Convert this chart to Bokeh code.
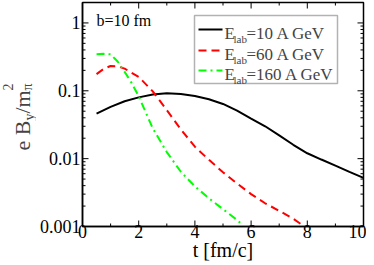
import math
from bokeh.plotting import figure
from bokeh.layouts import row
from bokeh.models import FixedTicker, CustomJSTickFormatter, Label, BoxAnnotation, Arrow, Range1d
from bokeh.embed import file_html
from bokeh.resources import INLINE

# ---- data ----
t_10 = [0.5, 1.0, 1.5, 2.0, 2.5, 3.0, 3.5, 4.0, 4.5, 5.0, 5.5, 6.0, 6.5, 7.0, 7.5, 8.0, 8.5, 9.0, 9.5, 10.0]
b_10 = [0.046, 0.058, 0.070, 0.080, 0.088, 0.092, 0.090, 0.084, 0.075, 0.064, 0.051, 0.039, 0.030, 0.022,
        0.016, 0.012, 0.0097, 0.0079, 0.0064, 0.0052]

t_60 = [0.5, 0.75, 1.0, 1.25, 1.5, 2.0, 2.5, 3.0, 3.5, 4.0, 4.5, 5.0, 5.5, 6.0, 6.5, 7.0, 7.5, 7.9]
b_60 = [0.176, 0.21, 0.232, 0.23, 0.212, 0.16, 0.098, 0.052, 0.027, 0.015, 0.0096, 0.0063, 0.0043,
        0.0030, 0.0022, 0.0017, 0.0013, 0.0010]

t_160 = [0.5, 0.75, 1.0, 1.25, 1.5, 1.75, 2.0, 2.5, 3.0, 3.5, 4.0, 4.5, 5.0, 5.5, 5.7]
b_160 = [0.345, 0.35, 0.345, 0.27, 0.19, 0.13, 0.083, 0.028, 0.0125, 0.0064, 0.0039, 0.0026, 0.0018,
         0.00125, 0.00105]

series_labels = ["=10 A GeV", "=60 A GeV", "=160 A GeV"]
series_colors = ["#000000", "#ff0000", "#00ff00"]
series_dashes = ["solid", "8 5", "8 4 2 4"]

x_lo, x_hi = 0, 10
y_lo, y_hi = 0.001, 2.0
x_major = [0, 2, 4, 6, 8, 10]
x_minor = [1, 3, 5, 7, 9]
x_tick_labels = ["0", "2", "4", "6", "8", "10"]
y_major = [0.001, 0.01, 0.1, 1.0]
y_tick_labels = ["0.001", "0.01", "0.1", "1"]
y_minor = [m * d for d in [0.001, 0.01, 0.1, 1.0] for m in range(2, 10) if m * d <= y_hi]
x_title = "t [fm/c]"

FONT = "Liberation Serif"

p = figure(width=330, height=265, x_range=(x_lo, x_hi), y_range=(y_lo, y_hi),
           y_axis_type="log", output_backend="svg", toolbar_location=None,
           min_border_left=40, min_border_right=3, min_border_top=2, min_border_bottom=39,
           background_fill_color="white", border_fill_color="white")
p.xgrid.visible = False
p.ygrid.visible = False
p.outline_line_color = "black"
p.outline_line_width = 1.5

for t, b, c, d in zip([t_10, t_60, t_160], [b_10, b_60, b_160], series_colors, series_dashes):
    p.line(t, b, line_color=c, line_width=2, line_dash=d)

# inward tick marks on all four sides
def ticks(xs, ys, ang, ln):
    p.ray(x=xs, y=ys, angle=ang, length=ln, length_units="screen",
          line_color="black", line_width=1)
ticks(x_major, [y_lo] * len(x_major), math.pi / 2, 6)
ticks(x_minor, [y_lo] * len(x_minor), math.pi / 2, 3)
ticks(x_major, [y_hi] * len(x_major), -math.pi / 2, 6)
ticks(x_minor, [y_hi] * len(x_minor), -math.pi / 2, 3)
ticks([x_lo] * len(y_major), y_major, 0, 6)
ticks([x_lo] * len(y_minor), y_minor, 0, 3)
ticks([x_hi] * len(y_major), y_major, math.pi, 6)
ticks([x_hi] * len(y_minor), y_minor, math.pi, 3)

xfmt = CustomJSTickFormatter(args=dict(vals=x_major, labs=x_tick_labels),
    code="const i = vals.findIndex(v => Math.abs(v - tick) < 1e-9); return i >= 0 ? labs[i] : '';")
yfmt = CustomJSTickFormatter(args=dict(vals=y_major, labs=y_tick_labels),
    code="const i = vals.findIndex(v => Math.abs(v - tick) <= 1e-9 * Math.abs(v)); return i >= 0 ? labs[i] : '';")

def style(ax, standoff):
    ax.axis_line_color = "black"
    ax.axis_line_width = 1.5
    ax.major_tick_in = 0
    ax.major_tick_out = 0
    ax.minor_tick_in = 0
    ax.minor_tick_out = 0
    ax.major_label_text_font = FONT
    ax.major_label_text_color = "black"
    ax.major_label_standoff = standoff
    ax.major_label_text_font_size = "18px"

xb = p.xaxis[0]
xb.ticker = FixedTicker(ticks=x_major, minor_ticks=x_minor)
xb.formatter = xfmt
style(xb, -2)
xb.axis_label = x_title
xb.axis_label_text_font = FONT
xb.axis_label_text_font_size = "20px"
xb.axis_label_text_font_style = "normal"
xb.axis_label_text_color = "black"
xb.axis_label_standoff = -2

yl = p.yaxis[0]
yl.ticker = FixedTicker(ticks=y_major, minor_ticks=y_minor)
yl.formatter = yfmt
style(yl, 2)

# ---- annotations inside the frame (frame-relative screen units, y up) ----
FH = 224
p.add_layout(Label(x=14, y=FH - 18, x_units="screen", y_units="screen", text="b=10 fm",
                   text_font=FONT, text_font_size="16px", text_color="black",
                   text_baseline="alphabetic"))

box_top = FH - 13
p.add_layout(BoxAnnotation(left=112, right=255, top=box_top, bottom=box_top - 68,
                           left_units="screen", right_units="screen", top_units="screen",
                           bottom_units="screen", fill_color="white", fill_alpha=1.0,
                           line_color="black", line_width=1.5))
row_off = [14, 35, 55]
for off, lab, c, d in zip(row_off, series_labels, series_colors, series_dashes):
    yy = box_top - off
    p.add_layout(Arrow(end=None, x_start=116, y_start=yy, x_end=140, y_end=yy,
                       start_units="screen", end_units="screen",
                       line_color=c, line_width=2, line_dash=d))
    base = yy - 4
    p.add_layout(Label(x=142, y=base, x_units="screen", y_units="screen", text="E",
                       text_font=FONT, text_font_size="17px", text_baseline="alphabetic"))
    p.add_layout(Label(x=151, y=base - 5, x_units="screen", y_units="screen", text="lab",
                       text_font=FONT, text_font_size="11px", text_baseline="alphabetic"))
    p.add_layout(Label(x=164, y=base, x_units="screen", y_units="screen", text=lab,
                       text_font=FONT, text_font_size="17px", text_baseline="alphabetic"))

# y axis label strip (its frame is aligned with the main frame): e B_y / m_pi^2
yfig = figure(width=36, height=265, output_backend="svg", toolbar_location=None,
              x_range=Range1d(0, 1), y_range=Range1d(0, 1),
              x_axis_location=None, y_axis_location=None, min_border=0,
              background_fill_color="white", border_fill_color="white")
yfig.outline_line_color = None
yfig.grid.visible = False
bx = 29
y0 = 76
ang = math.pi / 2
def ylab(text, dx, y, size, desc):
    yfig.add_layout(Label(x=bx + dx + desc, y=y, x_units="screen", y_units="screen", text=text,
                          angle=ang, text_font=FONT, text_font_size=size))
ylab("e B", 0, y0, "22px", 5)
ylab("y", 4, y0 + 30, "14px", 3)
ylab("/m", 0, y0 + 37, "22px", 5)
ylab("\u03c0", 2, y0 + 60, "14px", 3)
ylab("2", -20, y0 + 60, "14px", 3)

layout = row(yfig, p)
open("out.html", "w").write(file_html(layout, INLINE))
